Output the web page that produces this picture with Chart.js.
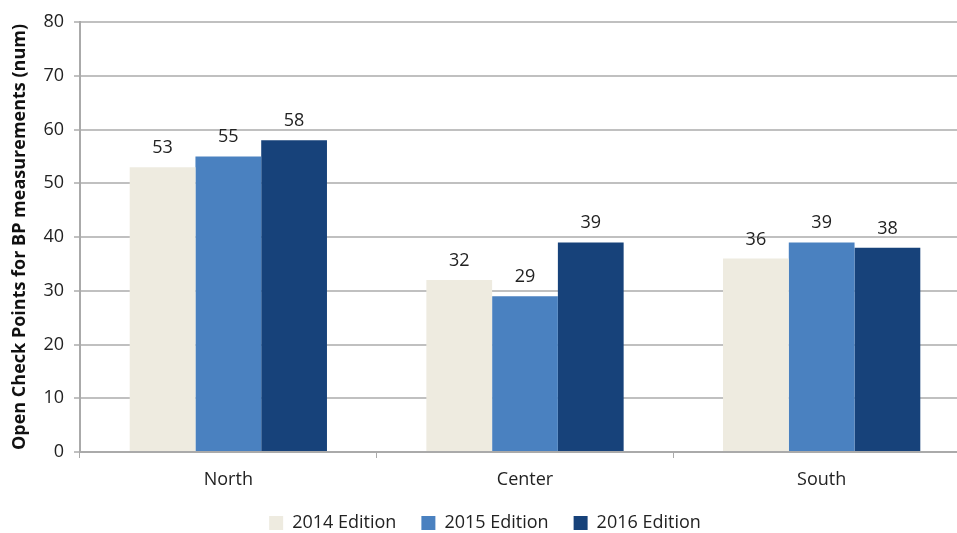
<!DOCTYPE html>
<html>
<head>
<meta charset="utf-8">
<script src="https://cdn.jsdelivr.net/npm/chart.js@4/dist/chart.umd.min.js"></script>
<style>
  html, body { margin: 0; padding: 0; background: #fff; overflow: hidden; }
  #wrap { width: 970px; height: 533px; }
</style>
</head>
<body>
<div id="wrap"><canvas id="c" width="970" height="533"></canvas></div>
<script>
const categories = ["North", "Center", "South"];
const seriesNames = ["2014 Edition", "2015 Edition", "2016 Edition"];
const values2014 = [53, 32, 36];
const values2015 = [55, 29, 39];
const values2016 = [58, 39, 38];
const yTicks = [0, 10, 20, 30, 40, 50, 60, 70, 80];
const yTitle = "Open Check Points for BP measurements (num)";

const colors = ["#EEEBE0", "#4A81C0", "#17427A"];
const FONT = "'Open Sans', 'Liberation Sans', sans-serif";

const dataLabels = {
  id: 'dataLabels',
  afterDatasetsDraw(chart) {
    const ctx = chart.ctx;
    ctx.save();
    ctx.font = "18px " + FONT;
    ctx.fillStyle = "#222";
    ctx.textAlign = "center";
    ctx.textBaseline = "alphabetic";
    chart.data.datasets.forEach((ds, i) => {
      chart.getDatasetMeta(i).data.forEach((bar, j) => {
        ctx.fillText(String(ds.data[j]), bar.x, bar.y - 14);
      });
    });
    ctx.restore();
  }
};

new Chart(document.getElementById('c'), {
  type: 'bar',
  data: {
    labels: categories,
    datasets: [values2014, values2015, values2016].map((d, i) => ({
      label: seriesNames[i],
      data: d,
      backgroundColor: colors[i],
      borderWidth: 0,
      categoryPercentage: 0.665,
      barPercentage: 1.0
    }))
  },
  options: {
    responsive: false,
    animation: false,
    layout: { padding: { top: 22, right: 0, left: 0, bottom: 0 } },
    plugins: {
      legend: {
        position: 'bottom',
        maxHeight: 44,
        labels: {
          font: { family: FONT, size: 18 },
          color: "#222",
          boxWidth: 14,
          boxHeight: 14,
          padding: 25
        }
      },
      tooltip: { enabled: false }
    },
    scales: {
      x: {
        offset: true,
        grid: { display: true, drawOnChartArea: false, drawTicks: true, tickLength: 6, color: "#AAAAAA", lineWidth: 1, offset: true },
        border: { color: "#AAAAAA", width: 2 },
        ticks: { font: { family: FONT, size: 18 }, color: "#222", padding: 11 },
        afterFit: s => { s.height = 37; }
      },
      y: {
        min: 0, max: 80,
        afterBuildTicks: s => { s.ticks = yTicks.map(v => ({ value: v })); },
        grid: { color: "#C0C0C0", lineWidth: 2, tickLength: 6, drawTicks: true },
        border: { color: "#AAAAAA", width: 2 },
        ticks: { font: { family: FONT, size: 18 }, color: "#222", padding: 10 },
        title: { display: true, text: yTitle, font: { family: FONT, size: 18, weight: 'bold' }, color: "#111", padding: { top: 9, bottom: 0 } },
        afterFit: s => { s.width = 80; }
      }
    }
  },
  plugins: [dataLabels]
});
</script>
</body>
</html>
